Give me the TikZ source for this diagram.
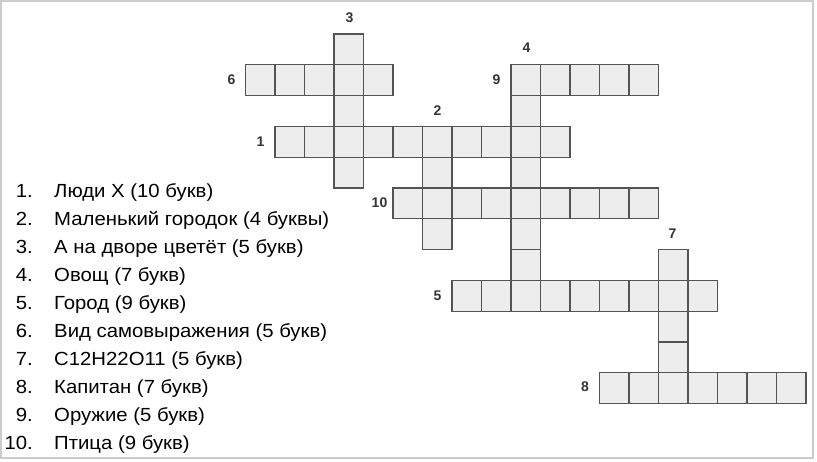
\documentclass[tikz,border=0pt]{standalone}
\usepackage{fontspec}
\setmainfont{Liberation Sans}
\newfontfamily\cluefont{Liberation Sans}[FakeStretch=1.07]
\begin{document}
\begin{tikzpicture}[x=1pt,y=-1pt,
  cell/.style={fill=black!7,draw=black!67,line width=1.3pt},
  num/.style={font=\fontsize{14}{14}\selectfont\bfseries,text=black!80},
  clue/.style={font=\cluefont\fontsize{19}{19}\selectfont,anchor=base west,inner sep=0pt},
  cluenum/.style={font=\cluefont\fontsize{19}{19}\selectfont,anchor=base east,inner sep=0pt}]
  \useasboundingbox (0,0) rectangle (817,461);
  \draw[black!20,line width=1.5pt] (1,1) rectangle (813,458);
  % across words: row/first column/length
  \foreach \r/\c/\n in {1/0/5, 1/9/5, 3/1/10, 5/5/9, 8/7/9, 11/12/7} {
    \foreach \i in {1,...,\n} {\draw[cell] ({245.5+29.5*(\c+\i-1)},{34+30.8*\r}) rectangle ++(29.5,30.8);}
  }
  % down words: column/first row/length
  \foreach \c/\r/\n in {3/0/5, 6/3/4, 9/1/8, 14/7/5} {
    \foreach \i in {1,...,\n} {\draw[cell] ({245.5+29.5*\c},{34+30.8*(\r+\i-1)}) rectangle ++(29.5,30.8);}
  }
  % numbers in the grid
  \node[num] (n1) at (260.5,141.5) {1};
  \node[num] (n2) at (437.5,110.5) {2};
  \node[num] (n3) at (349.5,18) {3};
  \node[num] (n4) at (526.5,48) {4};
  \node[num] (n5) at (437.5,295.5) {5};
  \node[num] (n6) at (231.5,80) {6};
  \node[num] (n7) at (672.5,233.5) {7};
  \node[num] (n8) at (585,387) {8};
  \node[num] (n9) at (496.5,80) {9};
  \node[num] (n10) at (379.5,202.5) {10};
  % clues
  \foreach \k/\t in {1/Люди X (10 букв), 2/Маленький городок (4 буквы), 3/А на дворе цветёт (5 букв),
    4/Овощ (7 букв), 5/Город (9 букв), 6/Вид самовыражения (5 букв), 7/C12H22O11 (5 букв),
    8/Капитан (7 букв), 9/Оружие (5 букв), 10/Птица (9 букв)} {
    \node[cluenum] (k\k) at (33,{197.5+28*(\k-1)}) {\k.};
    \node[clue] (c\k) at (54,{197.5+28*(\k-1)}) {\t};
  }
\end{tikzpicture}
\end{document}
